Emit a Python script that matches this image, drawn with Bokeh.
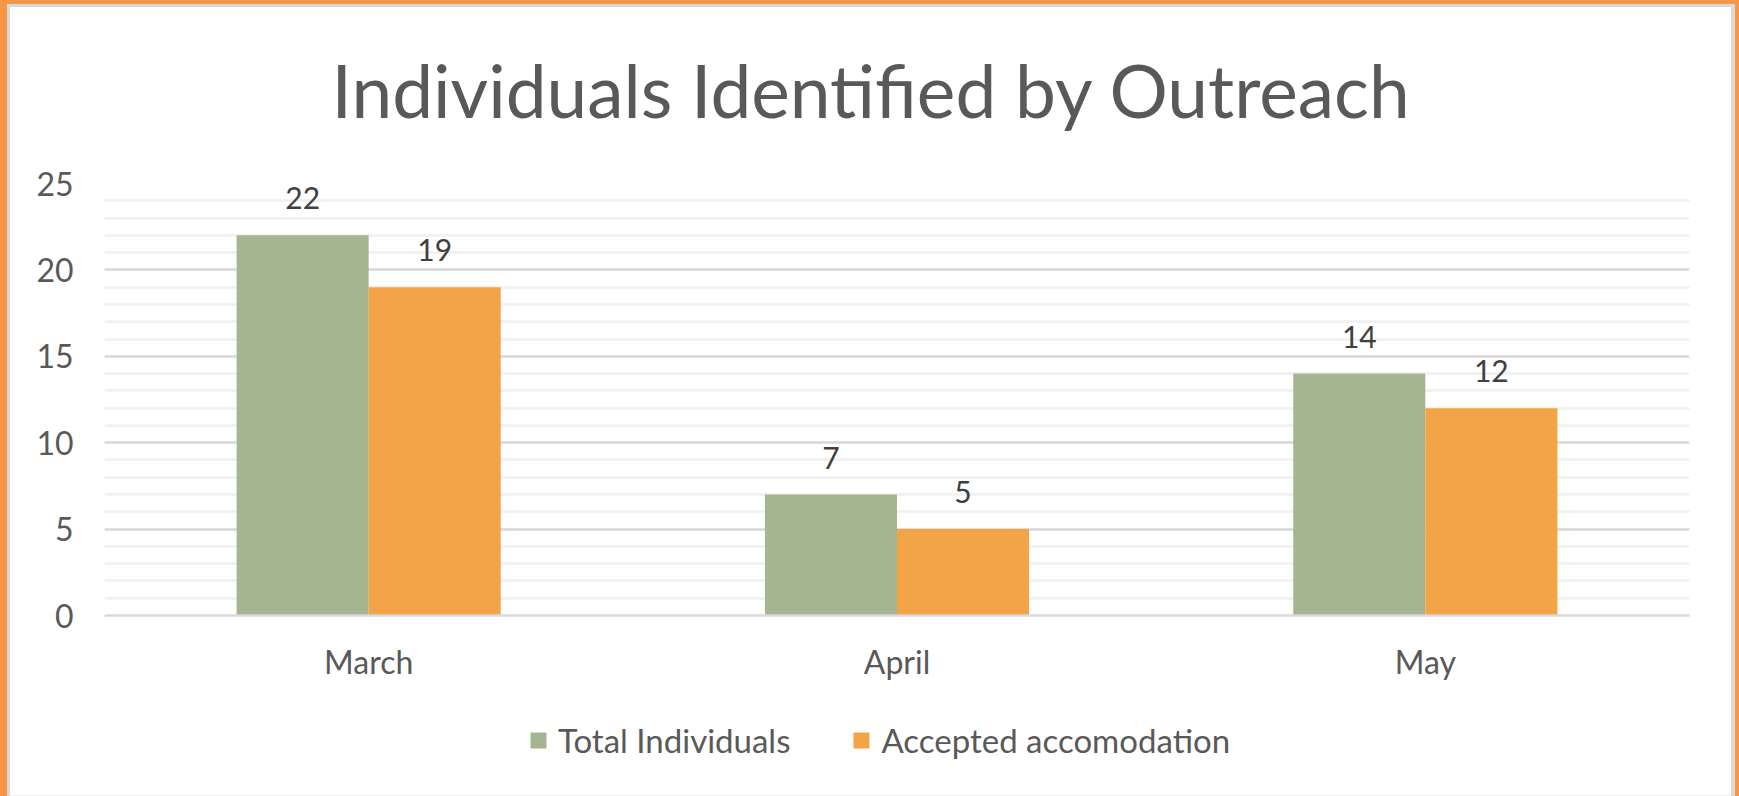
from bokeh.plotting import figure
from bokeh.layouts import column
from bokeh.models import (ColumnDataSource, FactorRange, Range1d, Legend, LegendItem,
                          SingleIntervalTicker)
from bokeh.transform import dodge
from bokeh.core.properties import value
from bokeh.embed import file_html
from bokeh.resources import INLINE

# ---- data ----
months = ["March", "April", "May"]
total_individuals = [22, 7, 14]
accepted_accomodation = [19, 5, 12]
series_names = ["Total Individuals", "Accepted accomodation"]
title_text = "Individuals Identified by Outreach"

FONT = "Lato"
GREEN = "#A5B592"
ORANGE = "#F3A447"
TXT = "#595959"

src = ColumnDataSource(dict(
    month=months,
    total=total_individuals,
    accepted=accepted_accomodation,
    total_lbl=[str(v) for v in total_individuals],
    accepted_lbl=[str(v) for v in accepted_accomodation],
))

# ---------------- main chart ----------------
p = figure(
    x_range=FactorRange(*months),
    y_range=Range1d(0, 25),
    width=1739, height=703,
    output_backend="svg", toolbar_location=None,
    min_border_left=104, min_border_right=50,
    min_border_top=193, min_border_bottom=78,
    title=title_text,
)
p.styles = {"margin-top": "-10px"}
p.background_fill_color = "white"
p.border_fill_alpha = 0
p.outline_line_color = None

p.title.text_font = FONT
p.title.text_font_size = "73px"
p.title.text_font_style = "normal"
p.title.text_color = TXT
p.title.align = "left"
p.title.offset = 227
p.title.standoff = 100

# grid
p.xgrid.grid_line_color = None
p.yaxis.ticker = SingleIntervalTicker(interval=5, num_minor_ticks=5)
p.ygrid.grid_line_color = "#d9d9d9"
p.ygrid.grid_line_width = 2.5
p.ygrid.minor_grid_line_color = "#f0f0f0"
p.ygrid.minor_grid_line_width = 2.5

# axes
for ax in (p.xaxis, p.yaxis):
    ax.major_tick_line_color = None
    ax.minor_tick_line_color = None
    ax.major_tick_out = 0
    ax.major_tick_in = 0
    ax.minor_tick_out = 0
    ax.minor_tick_in = 0
    ax.major_label_text_font = FONT
    ax.major_label_text_font_size = "32px"
    ax.major_label_text_color = TXT
p.yaxis.axis_line_color = None
p.yaxis.major_label_standoff = 31
p.xaxis.axis_line_color = "#d9d9d9"
p.xaxis.axis_line_width = 2.5
p.xaxis.major_label_standoff = 26

# bars
r1 = p.vbar(x=dodge("month", -0.125, range=p.x_range), top="total", width=0.25,
            source=src, fill_color=GREEN, line_color=None)
r2 = p.vbar(x=dodge("month", 0.125, range=p.x_range), top="accepted", width=0.25,
            source=src, fill_color=ORANGE, line_color=None)

# data labels
p.text(x=dodge("month", -0.125, range=p.x_range), y="total", text="total_lbl", source=src,
       text_font=value(FONT), text_font_size="30px", text_color="#404040",
       text_align="center", text_baseline="alphabetic", y_offset=-37)
p.text(x=dodge("month", 0.125, range=p.x_range), y="accepted", text="accepted_lbl", source=src,
       text_font=value(FONT), text_font_size="30px", text_color="#404040",
       text_align="center", text_baseline="alphabetic", y_offset=-37)

# ---------------- legend strip ----------------
q = figure(
    x_range=Range1d(0, 1), y_range=Range1d(0, 1),
    width=1739, height=103,
    output_backend="svg", toolbar_location=None,
    min_border=0,
)
q.axis.visible = False
q.grid.grid_line_color = None
q.outline_line_color = None
q.background_fill_alpha = 0
q.border_fill_alpha = 0
# legend key swatches: zero-height bars, so only their legend keys show
k1 = q.vbar(x=[0], top=[0], bottom=0, width=0.1, fill_color=GREEN, line_color=None)
k2 = q.vbar(x=[0], top=[0], bottom=0, width=0.1, fill_color=ORANGE, line_color=None)

legend = Legend(
    items=[LegendItem(label=series_names[0], renderers=[k1]),
           LegendItem(label=series_names[1], renderers=[k2])],
    orientation="horizontal", location=(424, 36),
    label_text_font=FONT, label_text_font_size="33px", label_text_color=TXT,
    glyph_width=20, glyph_height=20, label_standoff=10, spacing=61,
    padding=0, margin=0, border_line_color=None, background_fill_alpha=0,
)
q.add_layout(legend)

layout = column(p, q, spacing=0)
layout.styles = {
    "box-shadow": "inset 7px 4px 0 0 #F79646, inset -4px 0 0 0 #F79646, "
                  "inset 10px 7px 0 0 #d9d9d9, inset -8px 0 0 0 #d9d9d9, "
                  "inset 0 -1px 0 0 #eeeeee",
    "background-color": "white",
}

open("out.html", "w").write(file_html(layout, INLINE))
